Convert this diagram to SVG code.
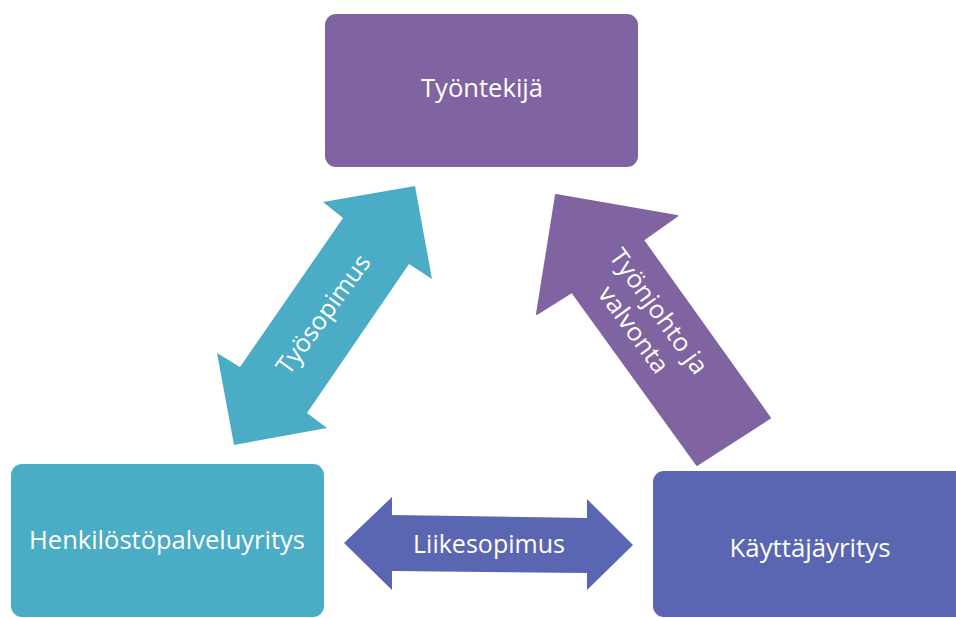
<svg xmlns="http://www.w3.org/2000/svg" width="956" height="618" viewBox="0 0 956 618">
  <style>
    .lbl { font-family: "Open Sans", "Noto Sans", "DejaVu Sans", sans-serif; font-size: 25px; fill: #ffffff; text-anchor: middle; }
    .purple { fill: #8064A2; }
    .teal { fill: #4BACC6; }
    .blue { fill: #5A66B1; }
  </style>
  <rect width="956" height="618" fill="#ffffff"/>
  <g id="connectors">
    <g id="tyosopimus">
      <polygon class="teal" points="415,186 432,279 409,264 307,413 327,428 234,445 217,353 240,367 343,218 323,202"/>
      <text class="lbl" transform="translate(323,314) rotate(-54)" x="0" y="9" textLength="141" lengthAdjust="spacingAndGlyphs">Työsopimus</text>
    </g>
    <g id="tyonjohto">
      <polygon class="purple" points="556,195 677,216 643,240 770,418 697,465 572,292 537,314" stroke="#8064A2" stroke-width="2" stroke-linejoin="round"/>
      <g transform="translate(647,320) rotate(54)">
        <text class="lbl" x="0" y="-6" textLength="148" lengthAdjust="spacingAndGlyphs">Työnjohto ja</text>
        <text class="lbl" x="0" y="25" textLength="101" lengthAdjust="spacingAndGlyphs">valvonta</text>
      </g>
    </g>
    <g id="liikesopimus">
      <polygon class="blue" points="344,543 392,497 392,515 587,518 587,499 633,545 587,590 587,573 392,571 392,590"/>
      <text class="lbl" x="489" y="553" textLength="152" lengthAdjust="spacingAndGlyphs">Liikesopimus</text>
    </g>
  </g>
  <g id="tyontekija">
    <rect class="purple" x="325" y="14" width="313" height="153" rx="11"/>
    <text class="lbl" x="482" y="97" textLength="122" lengthAdjust="spacingAndGlyphs">Työntekijä</text>
  </g>
  <g id="henkilostopalveluyritys">
    <rect class="teal" x="11" y="464" width="313" height="153" rx="11"/>
    <text class="lbl" x="167" y="549" textLength="276" lengthAdjust="spacingAndGlyphs">Henkilöstöpalveluyritys</text>
  </g>
  <g id="kayttajayritys">
    <rect class="blue" x="653" y="471" width="330" height="146" rx="11"/>
    <text class="lbl" x="810" y="557" textLength="161" lengthAdjust="spacingAndGlyphs">Käyttäjäyritys</text>
  </g>
</svg>
